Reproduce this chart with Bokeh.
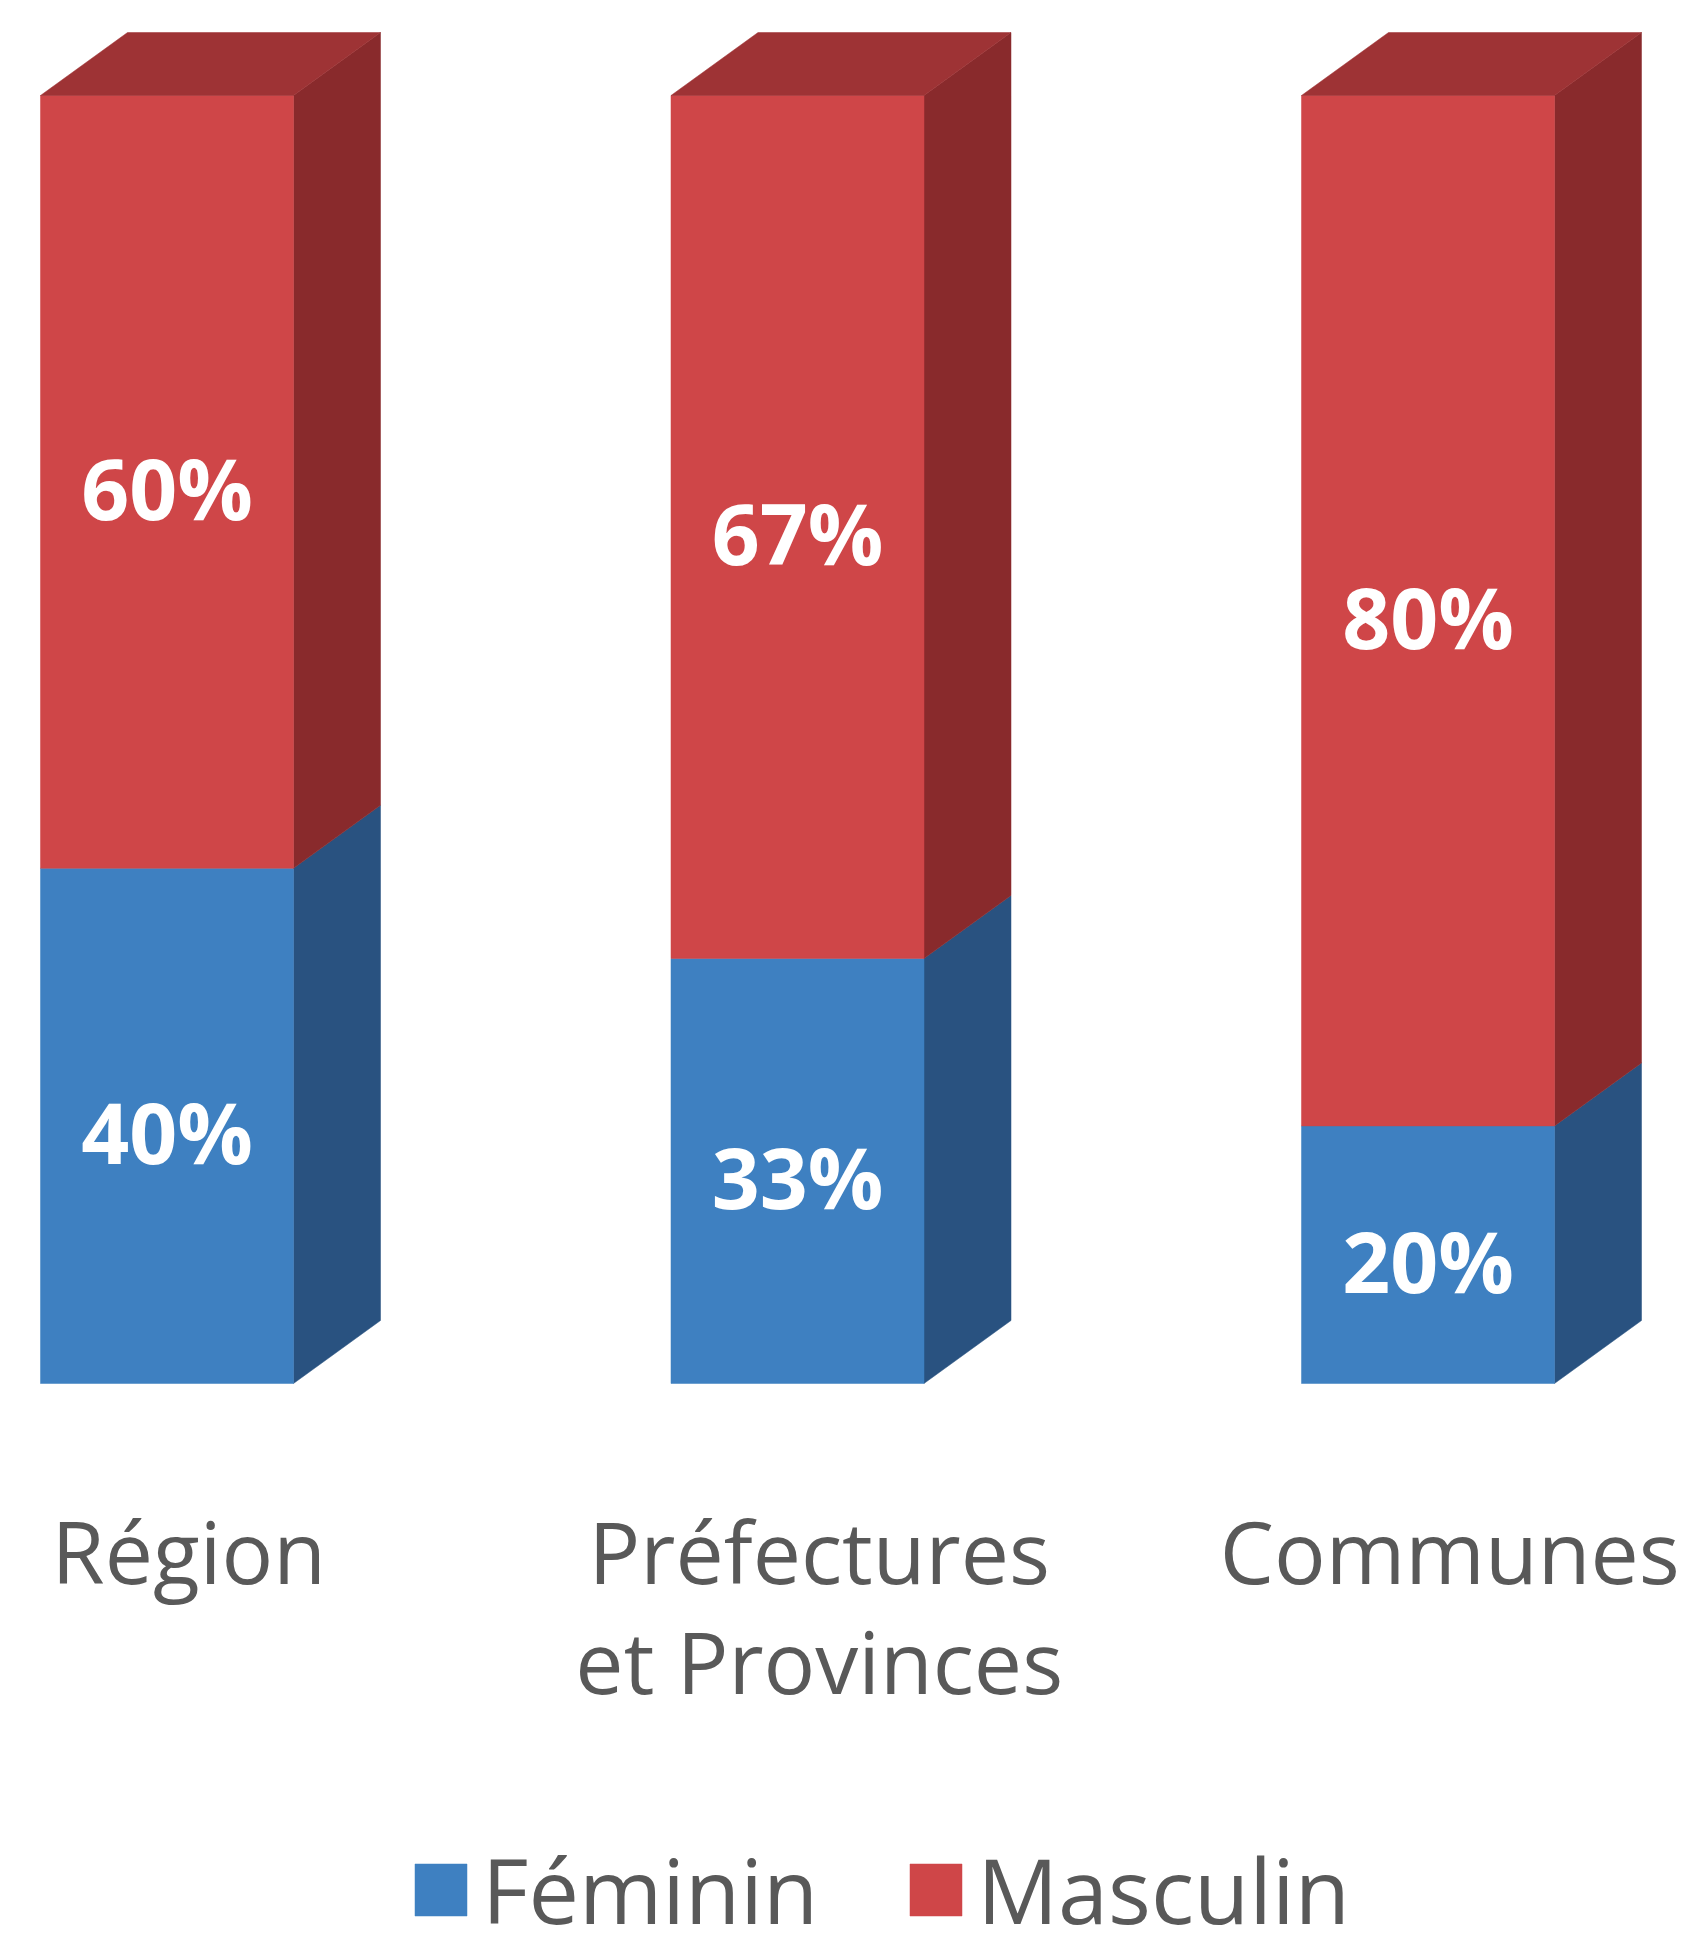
from bokeh.plotting import figure
from bokeh.models import Range1d, ColumnDataSource, Legend, LegendItem
from bokeh.core.properties import value
from bokeh.embed import file_html
from bokeh.resources import INLINE

# ---- data ----
categories = ["Région", "Préfectures\net Provinces", "Communes"]
feminin = [40, 33, 20]
masculin = [60, 67, 80]
series_names = ["Féminin", "Masculin"]

# ---- style ----
FRONT = {"Féminin": "#3E80C1", "Masculin": "#CF4648"}
SIDE = {"Féminin": "#295280", "Masculin": "#892A2C"}
TOP = {"Féminin": "#33679C", "Masculin": "#9E3335"}
BAR_W = 0.4013
DX = 0.138   # depth in x units
DY = 4.89    # depth in y units
FONT = "Open Sans"
GREY = "#595959"

W, H = 1698, 1950
p = figure(width=W, height=H, output_backend="svg", toolbar_location=None,
           x_range=Range1d(-0.26407, 2.42903), y_range=Range1d(-44.022, 107.376),
           min_border=0, x_axis_location=None, y_axis_location=None)
p.grid.visible = False
p.outline_line_color = None
p.background_fill_color = "white"
p.border_fill_color = "white"

xs = list(range(len(categories)))
bottoms_f = [0] * len(xs)
tops_f = feminin
bottoms_m = feminin
tops_m = [f + m for f, m in zip(feminin, masculin)]

renderers = {}
for name, bots, tops in [("Féminin", bottoms_f, tops_f), ("Masculin", bottoms_m, tops_m)]:
    # side faces
    sx, sy = [], []
    for x, b, t in zip(xs, bots, tops):
        r = x + BAR_W / 2
        sx.append([r, r + DX, r + DX, r])
        sy.append([b, b + DY, t + DY, t])
    p.patches(sx, sy, fill_color=SIDE[name], line_color=SIDE[name], line_width=0.5)
    # front faces
    src = ColumnDataSource(dict(x=xs, bottom=bots, top=tops))
    renderers[name] = p.vbar(x="x", bottom="bottom", top="top", width=BAR_W, source=src,
                             fill_color=FRONT[name], line_color=FRONT[name], line_width=0.5)

# top faces (on top of stacks)
tx, ty = [], []
for x, t in zip(xs, tops_m):
    l, r = x - BAR_W / 2, x + BAR_W / 2
    tx.append([l, l + DX, r + DX, r])
    ty.append([t, t + DY, t + DY, t])
p.patches(tx, ty, fill_color=TOP["Masculin"], line_color=TOP["Masculin"], line_width=0.5)

# value labels
lab_x, lab_y, lab_t = [], [], []
for x, b, t, v in zip(xs, bottoms_f, tops_f, feminin):
    lab_x.append(x); lab_y.append((b + t) / 2); lab_t.append(f"{v}%")
for x, b, t, v in zip(xs, bottoms_m, tops_m, masculin):
    lab_x.append(x); lab_y.append((b + t) / 2); lab_t.append(f"{v}%")
p.text(x=lab_x, y=lab_y, text=lab_t, text_font=value(FONT), text_font_style="bold",
       text_font_size="84px", text_color="white", text_align="center",
       text_baseline="middle", y_offset=6)

# category labels
p.text(x=[x + DX / 4 for x in xs], y=[-8.41] * len(xs), text=categories,
       text_font=value(FONT), text_font_size="86px", text_color=GREY,
       text_align="center", text_baseline="top", text_line_height=0.942)

legend = Legend(items=[LegendItem(label=n, renderers=[renderers[n]]) for n in series_names],
                orientation="horizontal", location=(408, 0),
                glyph_width=65, glyph_height=65, label_standoff=9, spacing=85,
                label_text_font=FONT, label_text_font_size="90px", label_text_color=GREY,
                padding=0, margin=0, border_line_color=None, background_fill_alpha=0)
p.add_layout(legend, "center")

open("out.html", "w").write(file_html(p, INLINE))
